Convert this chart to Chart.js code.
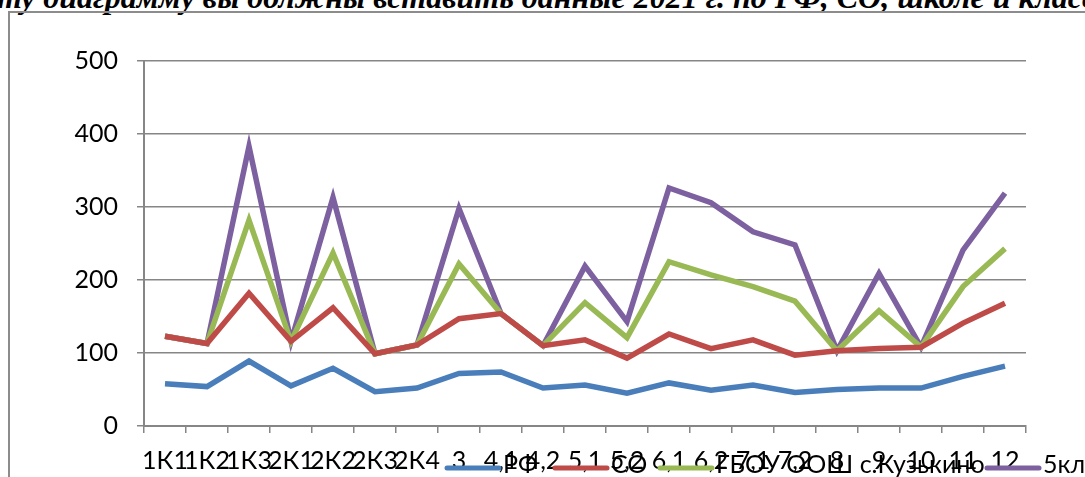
<!DOCTYPE html>
<html>
<head>
<meta charset="utf-8">
<script src="https://cdn.jsdelivr.net/npm/chart.js@4"></script>
<style>
  html, body { margin: 0; padding: 0; background: #fff; overflow: hidden; }
  #wrap { position: relative; width: 1085px; height: 477px; }
  #heading {
    position: absolute; left: -3px; top: -21px; white-space: nowrap;
    font: italic bold 32px "Liberation Serif", "DejaVu Serif", serif; color: #000;
  }
  #frame {
    position: absolute; left: 8px; top: 11px; width: 1100px; height: 500px;
    border: 2px solid #8c8c8c; box-sizing: border-box;
  }
  #chart { position: absolute; left: 0; top: 0; }
</style>
</head>
<body>
<div id="wrap">
  <div id="heading">ту диаграмму вы должны вставить данные 2021 г. по РФ, СО, школе и классу</div>
  <div id="frame"></div>
  <canvas id="chart" width="1085" height="477"></canvas>
</div>
<script>
const categories = ['1К1', '1К2', '1К3', '2К1', '2К2', '2К3', '2К4', '3', '4,1', '4,2', '5,1',
  '5,2', '6,1', '6,2', '7,1', '7,2', '8', '9', '10', '11', '12'];
const rf     = [58, 54, 89, 55, 79, 47, 52, 72, 74, 52, 56, 45, 59, 49, 56, 46, 50, 52, 52, 68, 82];
const so     = [65, 59, 93, 61, 83, 52, 59, 75, 80, 58, 62, 48, 67, 57, 62, 51, 53, 54, 56, 73, 86];
const school = [0, 0, 100, 0, 75, 0, 0, 75, 0, 0, 51, 28, 99, 101, 73, 74, 0, 52, 0, 50, 75];
const cls    = [0, 0, 101, 0, 76, 0, 0, 76, 0, 0, 50, 22, 101, 99, 75, 77, 0, 51, 0, 50, 76];
const yTicks = [0, 100, 200, 300, 400, 500];

const tickFont = { family: 'Lato, "Liberation Sans", sans-serif', size: 25 };

// legend is drawn by hand so it can sit on top of the axis labels like the original
const legendPos = [
  { x: 447, tx: 503 },
  { x: 555, tx: 611 },
  { x: 660, tx: 716 },
  { x: 987, tx: 1043 }
];

const handLegend = {
  id: 'handLegend',
  afterDraw(chart) {
    const ctx = chart.ctx;
    ctx.save();
    chart.data.datasets.forEach((ds, i) => {
      const p = legendPos[i];
      const y = 468;
      ctx.strokeStyle = ds.borderColor;
      ctx.lineWidth = 5;
      ctx.lineCap = 'round';
      ctx.beginPath();
      ctx.moveTo(p.x, y);
      ctx.lineTo(p.x + 52, y);
      ctx.stroke();
      ctx.fillStyle = '#000';
      ctx.font = tickFont.size + 'px ' + tickFont.family;
      ctx.textBaseline = 'middle';
      ctx.fillText(ds.label, p.tx, y - 3);
    });
    ctx.restore();
  }
};

function line(label, data, color) {
  return {
    label: label,
    data: data,
    borderColor: color,
    backgroundColor: color,
    borderWidth: 5.5,
    pointRadius: 0,
    tension: 0,
    fill: false,
    borderJoinStyle: 'miter'
  };
}

new Chart(document.getElementById('chart'), {
  type: 'line',
  data: {
    labels: categories,
    datasets: [
      line('РФ', rf, '#4a7ebb'),
      line('СО', so, '#be4b48'),
      line('ГБОУ ООШ с.Кузькино', school, '#98b954'),
      line('5кл', cls, '#7d60a0')
    ]
  },
  options: {
    responsive: false,
    animation: false,
    layout: { padding: { left: 0, right: 59, top: 61, bottom: 0 } },
    plugins: {
      legend: { display: false },
      tooltip: { enabled: false }
    },
    scales: {
      x: {
        offset: true,
        grid: { display: true, drawOnChartArea: false, drawTicks: true, tickLength: 7, offset: true, color: '#868686', lineWidth: 1.5 },
        border: { color: '#868686', width: 2 },
        ticks: { autoSkip: false, maxRotation: 0, minRotation: 0, color: '#000', font: tickFont, padding: 13 },
        afterFit(scale) { scale.height = 51; }
      },
      y: {
        stacked: true,
        min: 0,
        max: 500,
        afterBuildTicks(scale) { scale.ticks = yTicks.map(v => ({ value: v })); },
        grid: { color: '#868686', lineWidth: 1.5, tickLength: 7 },
        border: { color: '#868686', width: 2 },
        ticks: { color: '#000', font: tickFont, padding: 19 },
        afterFit(scale) { scale.width = 144; }
      }
    }
  },
  plugins: [handLegend]
});
</script>
</body>
</html>
